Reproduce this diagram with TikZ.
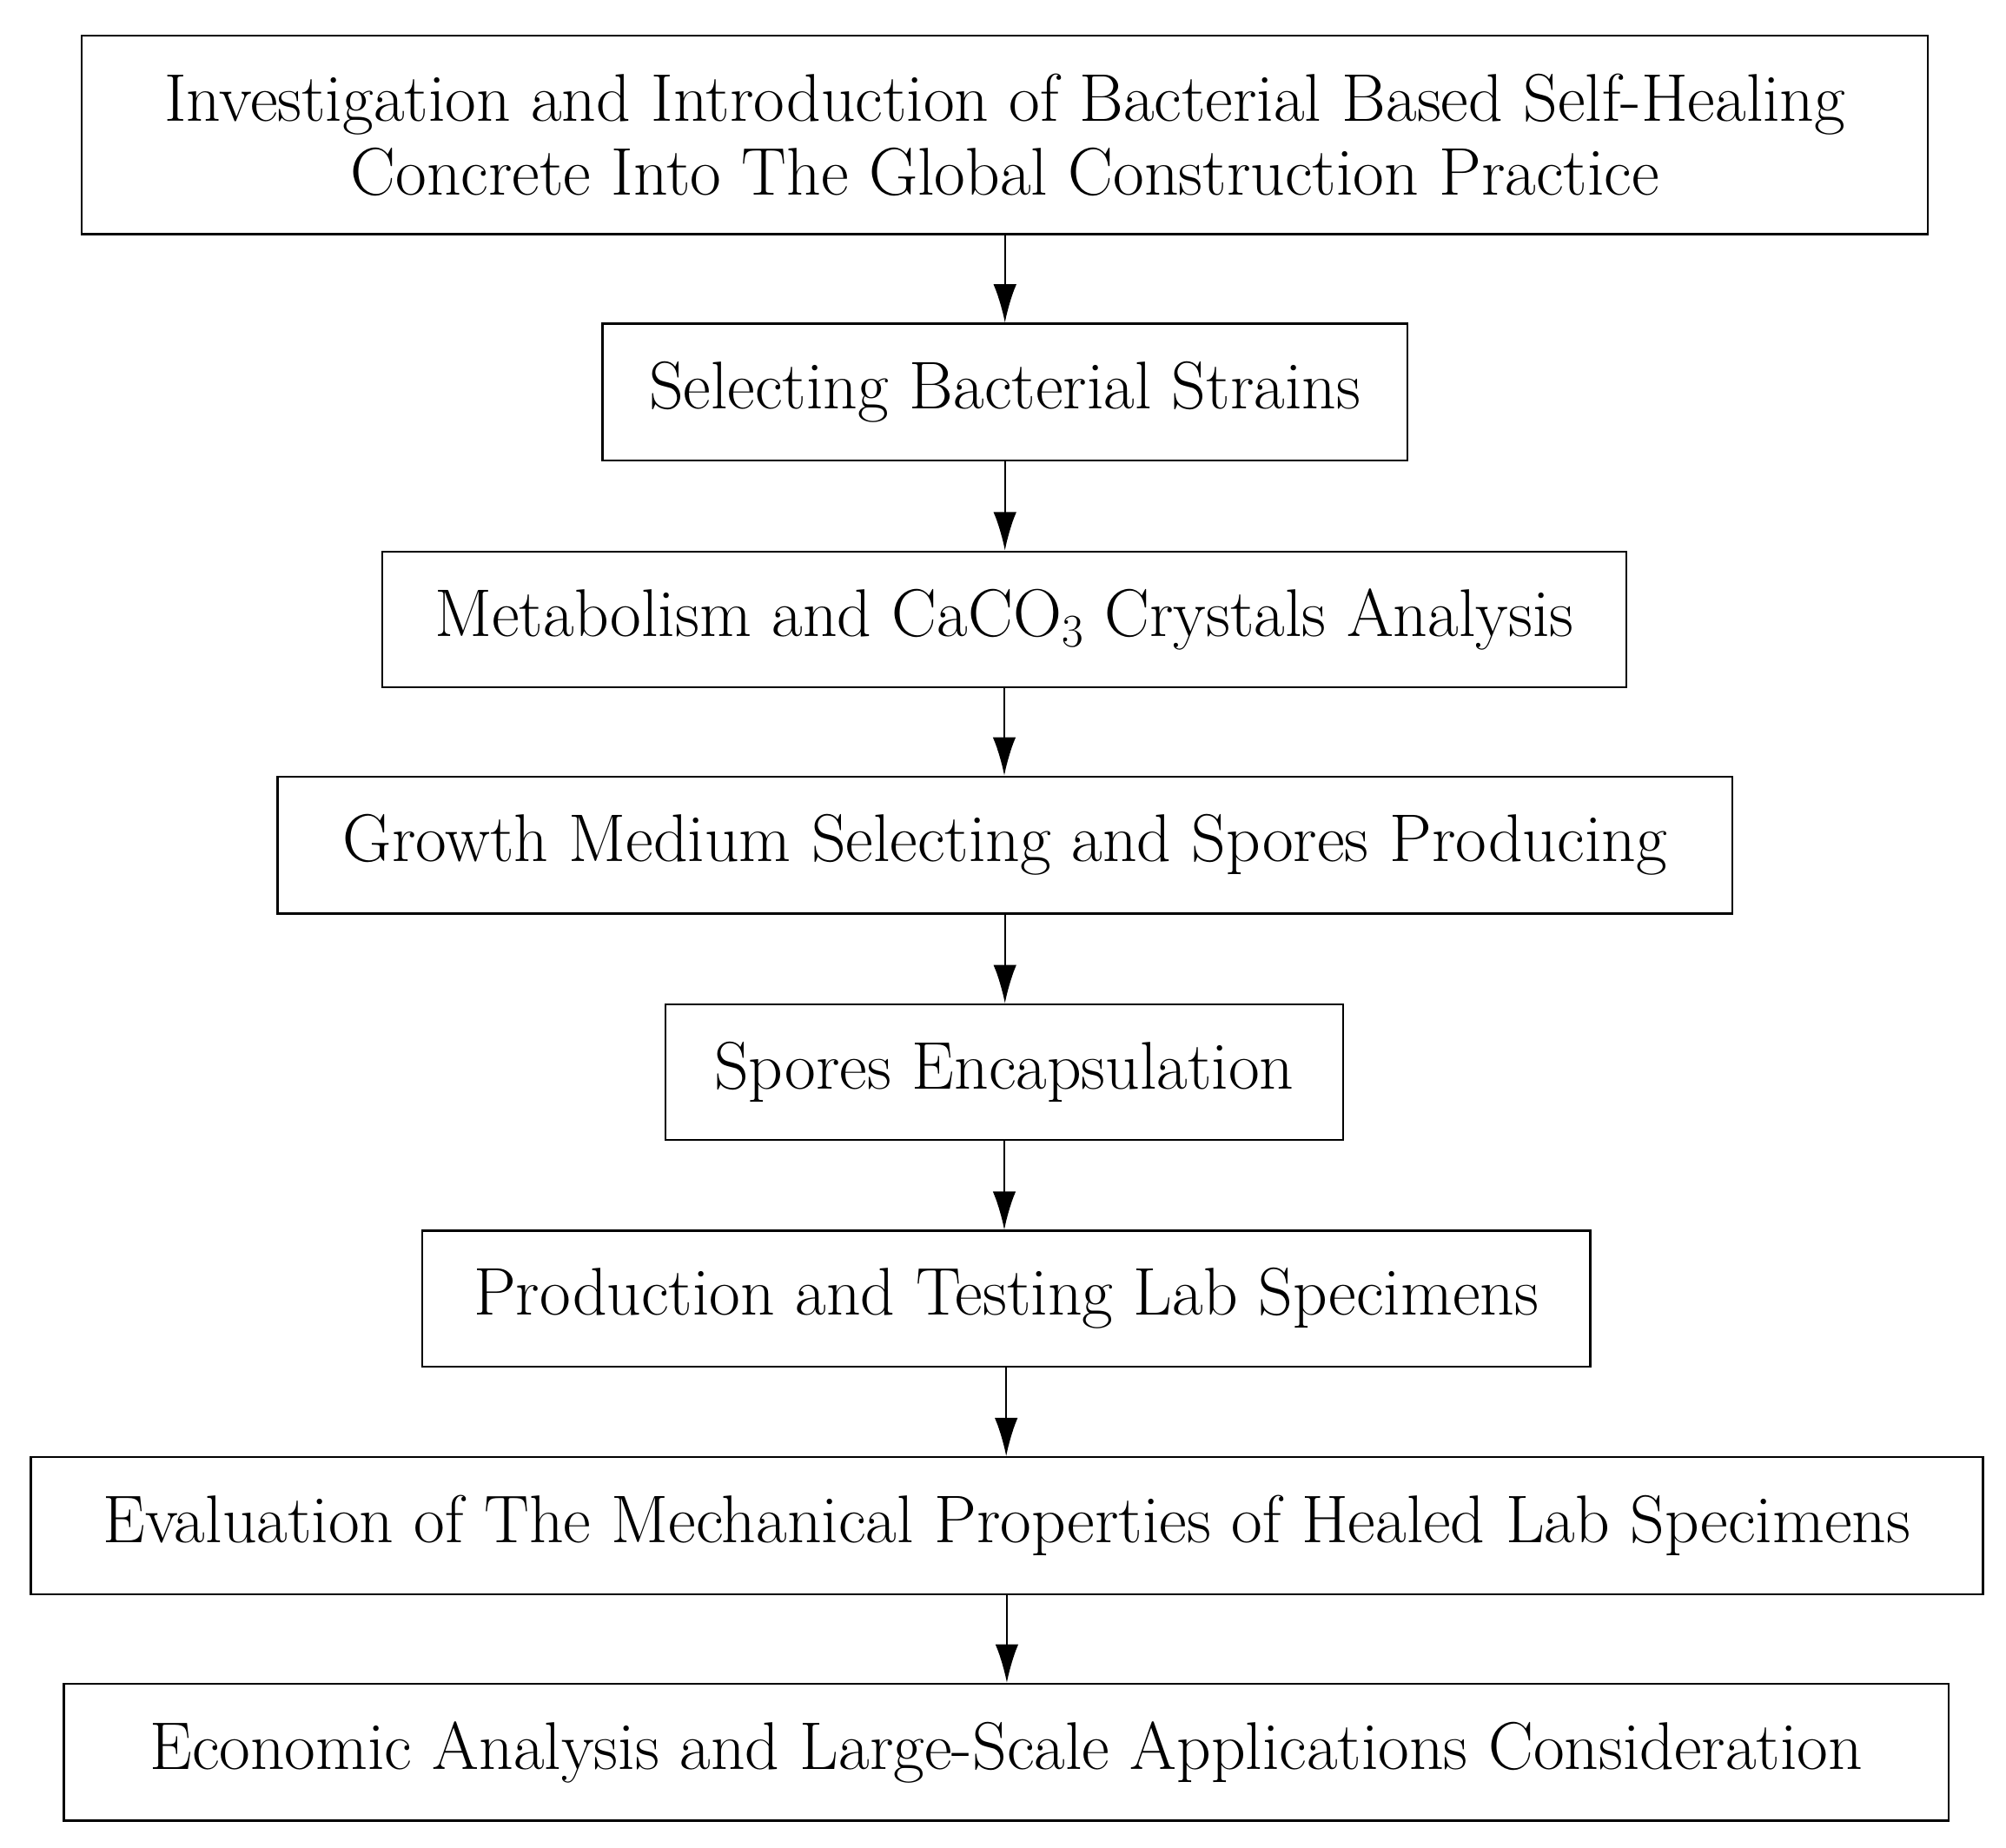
\documentclass[tikz,border=0pt]{standalone}
\usetikzlibrary{arrows.meta}
\begin{document}
\begin{tikzpicture}[
  box/.style={draw,line width=0.9pt,inner sep=0pt,align=center,font=\fontsize{30}{33}\selectfont},
  arr/.style={line width=0.9pt,-{Latex[length=0.6cm,width=0.36cm]}}]
\useasboundingbox (0,0) rectangle (31.36,-28.88);
\node[box,minimum width=28.86cm,minimum height=3.1cm] (n1) at (15.71,-2.11) {Investigation and Introduction of Bacterial Based Self-Healing\\Concrete Into The Global Construction Practice};
\node[box,minimum width=12.58cm,minimum height=2.14cm] (n2) at (15.71,-6.13) {Selecting Bacterial Strains};
\node[box,minimum width=19.44cm,minimum height=2.12cm] (n3) at (15.70,-9.68) {Metabolism and CaCO$_3$ Crystals Analysis};
\node[box,minimum width=22.74cm,minimum height=2.14cm] (n4) at (15.71,-13.21) {Growth Medium Selecting and Spores Producing};
\node[box,minimum width=10.6cm,minimum height=2.12cm] (n5) at (15.70,-16.76) {Spores Encapsulation};
\node[box,minimum width=18.26cm,minimum height=2.12cm] (n6) at (15.73,-20.30) {Production and Testing Lab Specimens};
\node[box,minimum width=30.52cm,minimum height=2.14cm] (n7) at (15.74,-23.85) {Evaluation of The Mechanical Properties of Healed Lab Specimens};
\node[box,minimum width=29.46cm,minimum height=2.14cm] (n8) at (15.73,-27.39) {Economic Analysis and Large-Scale Applications Consideration};
\foreach \a/\b in {n1/n2,n2/n3,n3/n4,n4/n5,n5/n6,n6/n7,n7/n8}
  \draw[arr] (\a.south) -- (\a.south |- \b.north);
\end{tikzpicture}
\end{document}
